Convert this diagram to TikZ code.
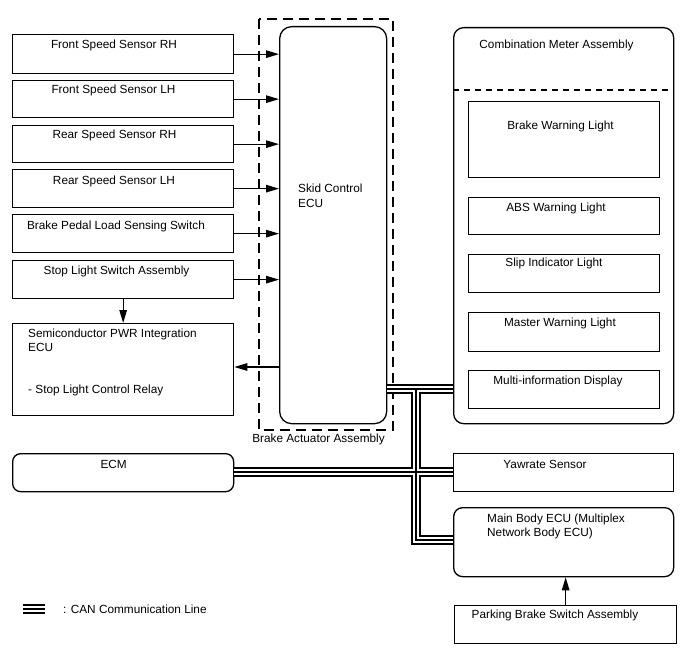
\documentclass[tikz,border=0pt]{standalone}
\usepackage{fontspec}
\setmainfont{Liberation Sans}
\usetikzlibrary{arrows.meta}
\newcommand\mfont{\fontsize{11.8}{14}\selectfont}
\begin{document}
\begin{tikzpicture}[x=1pt,y=-1pt,
  box/.style={draw, line width=1.3pt, inner sep=0pt, anchor=north west},
  rbox/.style={box, rounded corners=#1},
  txt/.style={inner sep=0pt, anchor=base, font=\mfont},
  ltxt/.style={inner sep=0pt, anchor=base west, font=\mfont},
  arr/.style={line width=1.2pt, -{Triangle[length=13pt,width=7.5pt]}},
]
\useasboundingbox (0,0) rectangle (688,658);

% dashed actuator box
\draw[line width=1.3pt, dash pattern=on 10pt off 6pt] (259,19) rectangle (393,430);
\node[txt] (act-t) at (318.5,442) {Brake Actuator Assembly};

% left boxes
\node[box, minimum width=221pt, minimum height=39pt] (fssr) at (12,34) {};
\node[box, minimum width=221pt, minimum height=37pt] (fssl) at (12,80) {};
\node[box, minimum width=221pt, minimum height=37pt] (rssr) at (12,125) {};
\node[box, minimum width=221pt, minimum height=38pt] (rssl) at (12,169) {};
\node[box, minimum width=221pt, minimum height=38pt] (bpl) at (12,214) {};
\node[box, minimum width=221pt, minimum height=38pt] (sls) at (12,260) {};
\node[box, minimum width=221pt, minimum height=92pt] (spi) at (12,323) {};
\node[rbox=8pt, minimum width=221pt, minimum height=38pt] (ecm) at (12,453) {};

\node[txt] (fssr-t) at (114,49) {Front Speed Sensor RH};
\node[txt] (fssl-t) at (113.5,94) {Front Speed Sensor LH};
\node[txt] (rssr-t) at (114.5,139) {Rear Speed Sensor RH};
\node[txt] (rssl-t) at (114,184) {Rear Speed Sensor LH};
\node[txt] (bpl-t) at (116,229) {Brake Pedal Load Sensing Switch};
\node[txt] (sls-t) at (116.5,274) {Stop Light Switch Assembly};
\node[ltxt] (spi-t1) at (28,337) {Semiconductor PWR Integration};
\node[ltxt] (spi-t2) at (28,351) {ECU};
\node[ltxt] (spi-t3) at (28,393) {- Stop Light Control Relay};
\node[txt] (ecm-t) at (113.7,468) {ECM};

% skid control ECU
\node[rbox=12pt, minimum width=107pt, minimum height=397pt] (ecu) at (279,26) {};
\node[ltxt] (ecu-t1) at (298,192) {Skid Control};
\node[ltxt] (ecu-t2) at (298,207) {ECU};

% combination meter
\node[rbox=10pt, minimum width=220pt, minimum height=396pt] (cm) at (453,27) {};
\node[txt] (cm-t) at (556.5,48.3) {Combination Meter Assembly};
\draw[line width=1.3pt, dash pattern=on 6pt off 5pt] (cm.west |- 0,90) -- (cm.east |- 0,90);
\node[box, minimum width=191pt, minimum height=76pt] (bwl) at (468,101) {};
\node[box, minimum width=191pt, minimum height=37pt] (abs) at (468,197) {};
\node[box, minimum width=191pt, minimum height=38pt] (slip) at (468,254) {};
\node[box, minimum width=191pt, minimum height=39pt] (mwl) at (468,312) {};
\node[box, minimum width=191pt, minimum height=38pt] (mid) at (468,370) {};
\node[txt] (bwl-t) at (560.5,130) {Brake Warning Light};
\node[txt] (abs-t) at (556,211.7) {ABS Warning Light};
\node[txt] (slip-t) at (554,266.7) {Slip Indicator Light};
\node[txt] (mwl-t) at (560,326.7) {Master Warning Light};
\node[txt] (mid-t) at (558,384.3) {Multi-information Display};

% right lower boxes
\node[box, minimum width=220pt, minimum height=38pt] (yaw) at (453,453) {};
\node[txt] (yaw-t) at (545,468) {Yawrate Sensor};
\node[rbox=9pt, minimum width=220pt, minimum height=69pt] (mb) at (453,507) {};
\node[ltxt] (mb-t1) at (487,522.7) {Main Body ECU (Multiplex};
\node[ltxt] (mb-t2) at (487,536.7) {Network Body ECU)};
\node[box, minimum width=222pt, minimum height=38pt] (pbs) at (454,605) {};
\node[txt] (pbs-t) at (555,618.3) {Parking Brake Switch Assembly};

% arrows
\foreach \n in {fssr,fssl,rssr,rssl,bpl,sls}
  \draw[arr] (\n.east) -- (\n.east -| ecu.west);
\draw[arr] (sls.south) -- (spi.north);
\draw[arr] (ecu.west |- 0,367) -- (spi.east |- 0,367);
\draw[arr] (pbs.north) -- (pbs.north |- mb.south);

% CAN bus
\coordinate (j1) at (416,389);
\coordinate (j2) at (416,540);
\coordinate (j3) at (416,472);
\coordinate (legL) at (23,609);
\coordinate (legR) at (45,609);
\foreach \c/\w in {black/10.5pt,white/6.9pt,black/1.7pt}
  \draw[draw=\c, line width=\w]
    (ecu.east |- j1) -- (cm.west |- j1)
    (j1) -- (j2) -- (mb.west |- j2)
    (ecm.east |- j3) -- (yaw.west |- j3)
    (legL) -- (legR);
\node[ltxt] (leg-t) at (63,613) {: CAN Communication Line};
\end{tikzpicture}
\end{document}
